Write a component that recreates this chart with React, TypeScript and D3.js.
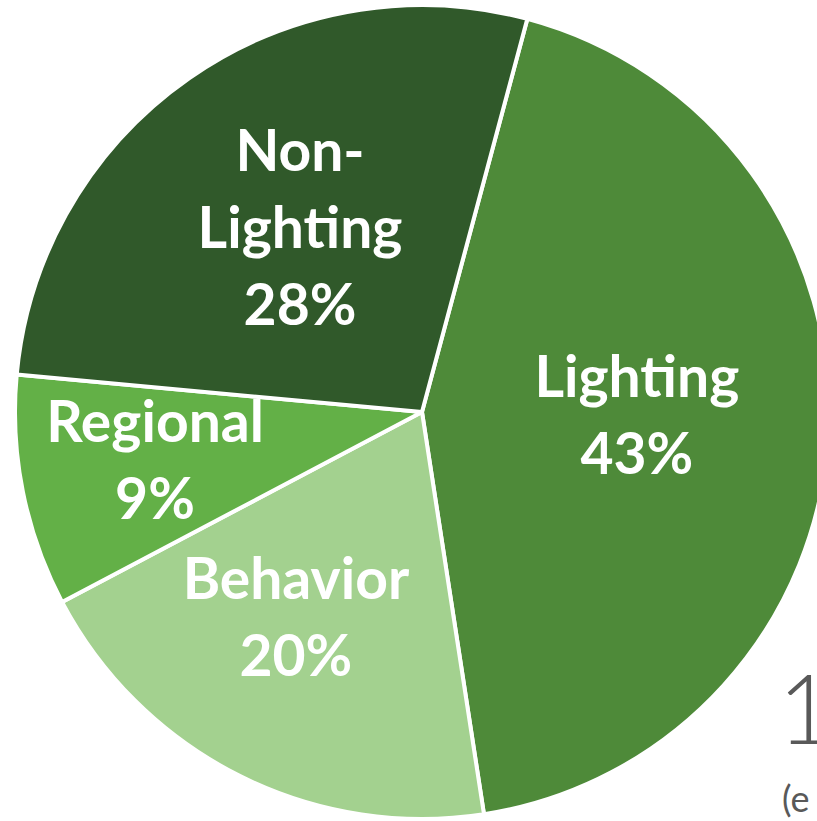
import { useRef, useEffect } from "react";
import * as d3 from "d3";

const categories = ["Lighting", "Behavior", "Regional", "Non-Lighting"];
// slice sizes (labels show rounded percents)
const shares = [43.4, 19.7, 9.2, 27.7];
const percentLabels = ["43%", "20%", "9%", "28%"];
const colors = ["#4e8a39", "#a3d18f", "#63b047", "#30592a"];
// name lines per slice
const nameLines = [["Lighting"], ["Behavior"], ["Regional"], ["Non-", "Lighting"]];
// label anchor in [angle deg, radius fraction]
const labelPos: [number, number][] = [
  [91, 0.528],
  [211.5, 0.593],
  [259.6, 0.667],
  [-33.5, 0.543],
];

const App = () => {
  const ref = useRef<SVGSVGElement | null>(null);

  useEffect(() => {
    if (!ref.current) return;
    const width = 817;
    const height = 821;
    const cx = 422;
    const cy = 412;
    const r = 407;

    const svg = d3.select(ref.current);
    svg.selectAll("*").remove();
    svg.attr("width", width).attr("height", height);

    const start = (15 * Math.PI) / 180;
    const pie = d3
      .pie<number>()
      .sort(null)
      .startAngle(start)
      .endAngle(start + 2 * Math.PI);
    const arcs = pie(shares);
    const arc = d3.arc<d3.PieArcDatum<number>>().innerRadius(0).outerRadius(r);

    const g = svg.append("g").attr("transform", `translate(${cx},${cy})`);
    g.selectAll("path")
      .data(arcs)
      .join("path")
      .attr("d", arc)
      .attr("fill", (_, i) => colors[i])
      .attr("stroke", "#fff")
      .attr("stroke-width", 4)
      .attr("stroke-linejoin", "round");

    const fontSize = 57;
    const lineH = 77;
    arcs.forEach((a, i) => {
      const [deg, f] = labelPos[i];
      const ang = (deg * Math.PI) / 180;
      const x = Math.sin(ang) * r * f;
      const y = -Math.cos(ang) * r * f;
      const lines = [...nameLines[i], percentLabels[i]];
      const t = g
        .append("text")
        .attr("text-anchor", "middle")
        .attr("fill", "#fff")
        .attr("font-family", "Lato, 'Open Sans', sans-serif")
        .attr("font-weight", 700)
        .attr("font-size", fontSize)
        .attr("data-cat", categories[i]);
      lines.forEach((ln, j) => {
        t.append("tspan")
          .attr("x", x)
          .attr("y", y + (j - (lines.length - 1) / 2) * lineH + fontSize * 0.35)
          .text(ln);
      });
    });

    svg
      .append("text")
      .attr("x", 778)
      .attr("y", 744)
      .attr("fill", "#595959")
      .attr("font-family", "Lato, 'Open Sans', sans-serif")
      .attr("font-weight", 300)
      .attr("font-size", 96)
      .text("1");
    svg
      .append("text")
      .attr("x", 782)
      .attr("y", 812)
      .attr("fill", "#595959")
      .attr("font-family", "Lato, 'Open Sans', sans-serif")
      .attr("font-size", 36)
      .text("(e");
  }, []);

  return (
    <svg
      ref={ref}
      style={{ position: "absolute", left: 0, top: 0, display: "block" }}
    />
  );
};

export default App;
